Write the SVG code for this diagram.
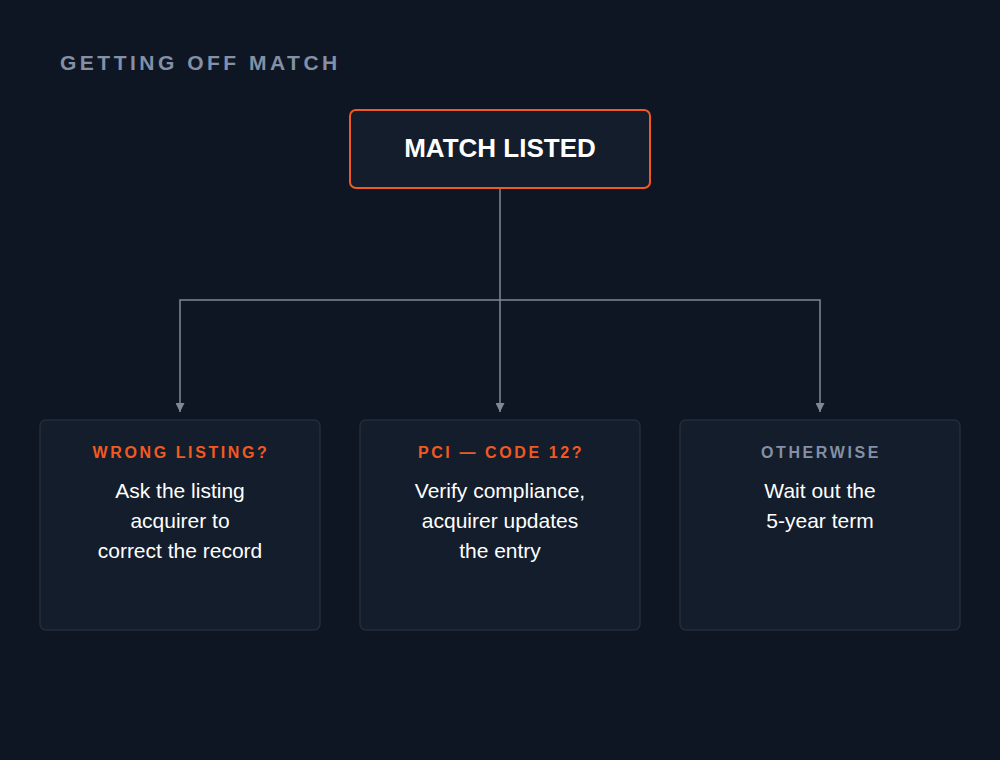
<svg xmlns="http://www.w3.org/2000/svg" width="1000" height="760" viewBox="0 0 1000 760">
<style>
.title{font-family:"Liberation Sans",Arial,sans-serif;font-size:21px;font-weight:bold;fill:#8390a5;letter-spacing:3.5px}
.box{fill:#141d2b;stroke:#222d3d;stroke-width:1.5}
.main{fill:#141d2b;stroke:#f05a22;stroke-width:2}
.mtxt{font-family:"Liberation Sans",Arial,sans-serif;font-size:26px;font-weight:bold;fill:#ffffff;text-anchor:middle}
.lab{font-family:"Liberation Sans",Arial,sans-serif;font-size:16px;font-weight:bold;letter-spacing:2.6px;text-anchor:middle}
.or{fill:#f05a22}
.gr{fill:#8390a5}
.body{font-family:"Liberation Sans",Arial,sans-serif;font-size:21px;fill:#ffffff;text-anchor:middle}
.conn{fill:none;stroke:#7d889b;stroke-width:1.5}
</style>
<defs>
<marker id="arr" viewBox="0 0 10 10" refX="10" refY="5" markerWidth="9" markerHeight="9" markerUnits="userSpaceOnUse" orient="auto">
<path d="M0,0 L10,5 L0,10 z" fill="#7d889b"/>
</marker>
</defs>
<rect width="1000" height="760" fill="#0f1623"/>
<text class="title" x="60" y="70">GETTING OFF MATCH</text>
<g id="connectors">
<path class="conn" d="M500,188 V412" marker-end="url(#arr)"/>
<path class="conn" d="M500,300 H180 V412" marker-end="url(#arr)"/>
<path class="conn" d="M500,300 H820 V412" marker-end="url(#arr)"/>
</g>
<g id="match-listed">
<rect class="main" x="350" y="110" width="300" height="78" rx="6"/>
<text class="mtxt" x="500" y="157">MATCH LISTED</text>
</g>
<g id="wrong-listing">
<rect class="box" x="40" y="420" width="280" height="210" rx="6"/>
<text class="lab or" x="181" y="458">WRONG LISTING?</text>
<text class="body" x="180" y="498">Ask the listing</text>
<text class="body" x="180" y="528">acquirer to</text>
<text class="body" x="180" y="558">correct the record</text>
</g>
<g id="pci-code-12">
<rect class="box" x="360" y="420" width="280" height="210" rx="6"/>
<text class="lab or" x="501" y="458">PCI — CODE 12?</text>
<text class="body" x="500" y="498">Verify compliance,</text>
<text class="body" x="500" y="528">acquirer updates</text>
<text class="body" x="500" y="558">the entry</text>
</g>
<g id="otherwise">
<rect class="box" x="680" y="420" width="280" height="210" rx="6"/>
<text class="lab gr" x="821" y="458">OTHERWISE</text>
<text class="body" x="820" y="498">Wait out the</text>
<text class="body" x="820" y="528">5-year term</text>
</g>
</svg>
